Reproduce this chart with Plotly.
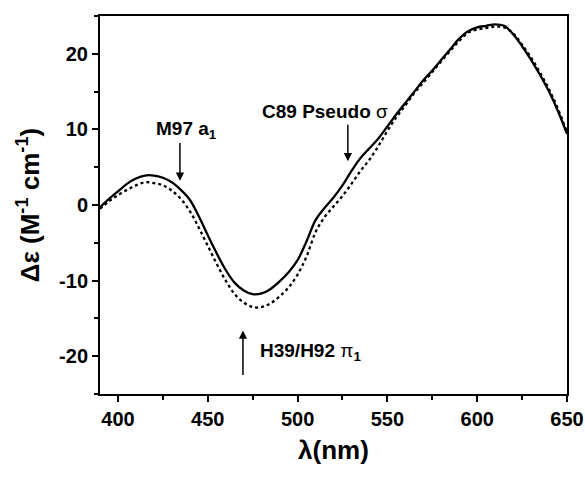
import plotly.graph_objects as go

wavelength = [390, 395, 400, 405, 410, 415, 420, 425, 430, 435, 440, 445, 450, 455, 460,
              465, 470, 475, 480, 485, 490, 495, 500, 505, 510, 515, 520, 525, 530, 535,
              540, 545, 550, 555, 560, 565, 570, 575, 580, 585, 590, 595, 600, 605, 610,
              615, 620, 625, 630, 635, 640, 645, 650]

solid_cd = [-0.3, 0.8, 1.8, 2.8, 3.5, 3.9, 3.9, 3.6, 3.0, 2.0, 0.7, -1.5, -4.0, -6.4, -8.6,
            -10.3, -11.3, -11.8, -11.7, -11.1, -10.1, -8.9, -7.3, -4.8, -2.0, -0.4, 1.0, 2.6, 4.5, 6.2,
            7.5, 8.8, 10.4, 12.0, 13.5, 15.0, 16.5, 17.8, 19.2, 20.6, 22.0, 23.0, 23.5, 23.7, 23.9,
            23.7, 22.6, 21.0, 19.2, 17.2, 15.0, 12.4, 9.4]

dotted_cd = [-0.5, 0.5, 1.3, 2.0, 2.6, 3.0, 2.9, 2.6, 1.9, 0.8, -0.8, -3.0, -5.4, -7.8, -10.0,
             -11.8, -12.9, -13.5, -13.5, -13.0, -12.1, -10.9, -9.2, -6.8, -3.6, -1.6, -0.2, 1.2, 2.8, 4.5,
             6.0, 7.8, 9.8, 11.6, 13.2, 14.8, 16.2, 17.6, 19.0, 20.4, 21.7, 22.8, 23.2, 23.4, 23.6,
             23.5, 22.7, 21.2, 19.5, 17.5, 15.3, 12.7, 9.6]

x_ticks = [400, 450, 500, 550, 600, 650]
y_ticks = [-20, -10, 0, 10, 20]

# annotation labels: (text, x, y), arrows: (x_tail, y_tail, x_tip, y_tip)
labels = [("<b>M97 a<sub>1</sub></b>", 438, 9.9),
          ("<b>C89 Pseudo</b> σ", 515, 12.4),
          ("<b>H39/H92</b> π<sub><b>1</b></sub>", 507, -19.4)]
arrows = [(434.5, 8.4, 434.5, 3.2),
          (528, 10.8, 528, 5.8),
          (469.6, -22.7, 469.6, -16.6)]

fig = go.Figure()
fig.add_trace(go.Scatter(x=wavelength, y=dotted_cd, mode="lines",
                         line=dict(color="black", width=2.3, dash="dot", shape="spline"),
                         showlegend=False))
fig.add_trace(go.Scatter(x=wavelength, y=solid_cd, mode="lines",
                         line=dict(color="black", width=2.3, shape="spline"),
                         showlegend=False))

for t, x, y in labels:
    fig.add_annotation(x=x, y=y, text=t, showarrow=False,
                       font=dict(family="Liberation Sans", size=19, color="black"))
for xt, yt, xh, yh in arrows:
    fig.add_annotation(x=xh, y=yh, ax=xt, ay=yt, axref="x", ayref="y", xref="x", yref="y",
                       text="", showarrow=True, arrowhead=2, arrowsize=1.1, arrowwidth=1.5,
                       arrowcolor="black")

axis_common = dict(showline=True, linecolor="black", linewidth=2, mirror=True,
                   ticks="outside", ticklen=6, tickwidth=2, tickcolor="black",
                   showgrid=False, zeroline=False, automargin=False,
                   tickfont=dict(family="Liberation Sans", size=20, color="black"))

fig.update_xaxes(range=[390, 650], tickvals=x_ticks,
                 ticktext=[f"<b>{v}</b>" for v in x_ticks],
                 minor=dict(ticks="outside", ticklen=4, tickwidth=2, tickcolor="black", dtick=25, tick0=400),
                 title=dict(text="<b>λ(nm)</b>", font=dict(family="Liberation Sans", size=26, color="black"),
                            standoff=12),
                 **axis_common)
fig.update_yaxes(range=[-25, 25], tickvals=y_ticks,
                 ticktext=[f"<b>{v}</b>" for v in y_ticks],
                 minor=dict(ticks="outside", ticklen=4, tickwidth=2, tickcolor="black", dtick=5, tick0=0),
                 title=dict(text="<b>Δε (M<sup>-1</sup> cm<sup>-1</sup>)</b>",
                            font=dict(family="Liberation Sans", size=26, color="black"), standoff=12),
                 **axis_common)

fig.update_layout(width=585, height=477, margin=dict(l=100, r=18, t=16, b=83),
                  plot_bgcolor="white", paper_bgcolor="white")

fig.write_html("out.html")
